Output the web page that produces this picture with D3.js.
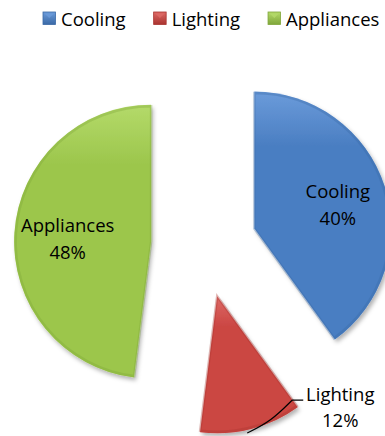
<!DOCTYPE html>
<html><head><meta charset="utf-8">
<script src="https://cdn.jsdelivr.net/npm/d3@7"></script>
<style>
html,body{margin:0;padding:0;background:#fff;}
svg{display:block;font-family:"Open Sans",sans-serif;}
</style></head>
<body><svg id="chart" width="385" height="436"></svg>
<script>
const categories = ["Cooling", "Lighting", "Appliances"];
const values = [40, 12, 48];
const colors = ["#4A7EC2", "#CB4643", "#9CC64C"];
const lightColors = ["#6B9BDA", "#DD6A66", "#B4DA6A"];
const darkColors = ["#3A69A6", "#A9332F", "#7FA63A"];

const svg = d3.select("#chart");
const cx = 204, cy = 245, R = 137, explode = 53;

const defs = svg.append("defs");
const shadow = defs.append("filter").attr("id","shadow").attr("x","-20%").attr("y","-20%").attr("width","140%").attr("height","140%");
shadow.append("feDropShadow").attr("dx",2).attr("dy",3).attr("stdDeviation",2.2).attr("flood-color","#000").attr("flood-opacity",0.3);

categories.forEach((c,i)=>{
  const g = defs.append("linearGradient").attr("id","grad"+i).attr("x1",0).attr("y1",0).attr("x2",0).attr("y2",1);
  g.append("stop").attr("offset","0%").attr("stop-color",lightColors[i]);
  g.append("stop").attr("offset","22%").attr("stop-color",colors[i]);
  g.append("stop").attr("offset","100%").attr("stop-color",colors[i]);
  const lg = defs.append("linearGradient").attr("id","lgrad"+i).attr("x1",0).attr("y1",0).attr("x2",0).attr("y2",1);
  lg.append("stop").attr("offset","0%").attr("stop-color",lightColors[i]);
  lg.append("stop").attr("offset","100%").attr("stop-color",darkColors[i]);
});

const pie = d3.pie().sort(null).value(d=>d).startAngle(0).endAngle(2*Math.PI);
const arcs = pie(values);
const arc = d3.arc().innerRadius(0).outerRadius(R);
const bevel = d3.arc().innerRadius(0).outerRadius(R-1.5);

function offset(d){
  const a = (d.startAngle + d.endAngle)/2;
  return [explode*Math.sin(a), -explode*Math.cos(a)];
}

const g = svg.append("g").attr("transform",`translate(${cx},${cy})`);
const slices = g.selectAll("g.slice").data(arcs).enter().append("g")
  .attr("class","slice")
  .attr("transform",d=>{const o=offset(d);return `translate(${o[0]},${o[1]})`;});
slices.append("path").attr("d",arc).attr("fill",(d,i)=>"url(#grad"+i+")").attr("filter","url(#shadow)");
slices.append("path").attr("d",bevel).attr("fill","none")
  .attr("stroke",(d,i)=>darkColors[i]).attr("stroke-opacity",0.35).attr("stroke-width",2.5);

// labels
const fs = 18.5, lh = 27;
const labelArc = d3.arc().innerRadius(0).outerRadius(R*1.25);
arcs.forEach((d,i)=>{
  const o = offset(d);
  const pct = Math.round(d.value/d3.sum(values)*100)+"%";
  if(i===1){
    const a = (d.startAngle+d.endAngle)/2;
    const sx = o[0] + R*Math.sin(a), sy = o[1] - R*Math.cos(a);
    const ex = sx + 41, ey = sy - 29;
    g.append("path").attr("d",d3.line().curve(d3.curveBasis)([[sx-4,sy+4],[sx+20,sy-8],[ex,ey]]) + `L${ex+11},${ey}`)
      .attr("fill","none").attr("stroke","#000").attr("stroke-width",1.2);
    const t = g.append("text").attr("text-anchor","middle").attr("font-size",fs).attr("fill","#000");
    t.append("tspan").attr("x",ex+48).attr("y",ey+0.5).text(categories[i]);
    t.append("tspan").attr("x",ex+48).attr("y",ey+26.5).text(pct);
  } else {
    const c = labelArc.centroid(d);
    const x = o[0]+c[0], y = o[1]+c[1];
    const t = g.append("text").attr("text-anchor","middle").attr("font-size",fs).attr("fill","#000");
    t.append("tspan").attr("x",x+2).attr("y",y-4).text(categories[i]);
    t.append("tspan").attr("x",x+2).attr("y",y-4+lh).text(pct);
  }
});

// legend
const leg = svg.append("g").attr("transform","translate(43,12)");
let lx = 0;
categories.forEach((c,i)=>{
  const it = leg.append("g").attr("transform",`translate(${lx},0)`);
  it.append("rect").attr("width",12.5).attr("height",12.5).attr("fill","url(#lgrad"+i+")").attr("stroke",darkColors[i]).attr("stroke-width",0.8);
  it.append("path").attr("d","M1.5,1.5L11,1.5L6.25,6Z").attr("fill",lightColors[i]).attr("opacity",0.8);
  const t = it.append("text").attr("x",18).attr("y",13.5).attr("font-size",fs).attr("fill","#000").text(c);
  const w = t.node().getComputedTextLength();
  lx += 18 + w + 28;
});
</script></body></html>
